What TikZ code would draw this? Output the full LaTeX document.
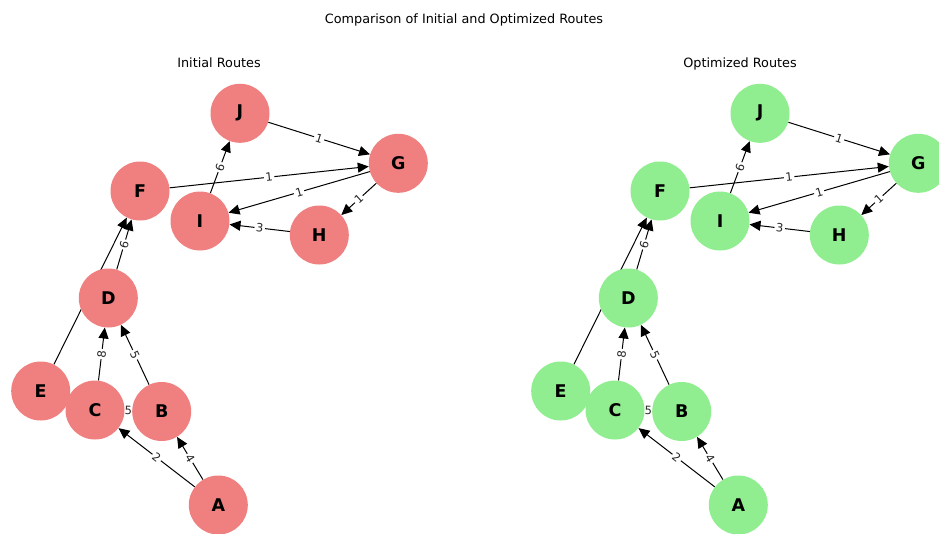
\documentclass[tikz,border=0pt]{standalone}
\usepackage{fontspec}
\setmainfont{DejaVu Sans}
\usetikzlibrary{arrows.meta}
\pgfdeclarelayer{bottom}
\pgfdeclarelayer{background}
\pgfsetlayers{bottom,background,main}
\definecolor{lcoral}{RGB}{240,128,128}
\definecolor{lgreen}{RGB}{144,238,144}
\tikzset{
  vtx/.style={circle, minimum size=59pt, inner sep=0pt, draw=none, font=\fontsize{17.5}{17.5}\selectfont\bfseries},
  edge/.style={draw=black, line width=1pt, -{Triangle[length=11pt,width=10pt]}},
  plainedge/.style={draw=black, line width=1pt},
  elab/.style={fill=white, inner sep=1.5pt, rounded corners=2pt, sloped, midway, font=\fontsize{11.5}{11.5}\selectfont, text=black!85},
  ttl/.style={anchor=base, font=\fontsize{12.8}{13}\selectfont, text=black}
}
\newcommand\routegraph[3]{%
  \begin{scope}[xshift=#3]
    \node[vtx,fill=#2] (#1J) at (240,113.3) {J};
    \node[vtx,fill=#2] (#1G) at (398.3,163.3) {G};
    \node[vtx,fill=#2] (#1F) at (140,191) {F};
    \node[vtx,fill=#2] (#1I) at (200,221) {I};
    \node[vtx,fill=#2] (#1H) at (319.3,235) {H};
    \node[vtx,fill=#2] (#1D) at (108.3,298) {D};
    \node[vtx,fill=#2] (#1E) at (40.7,391) {E};
    \node[vtx,fill=#2] (#1C) at (95,410) {C};
    \node[vtx,fill=#2] (#1B) at (161.7,411.5) {B};
    \node[vtx,fill=#2] (#1A) at (218.3,505) {A};
    \begin{pgfonlayer}{background}
      \draw[edge] (#1E) -- (#1F);
      \draw[edge] (#1D) -- node[elab]{6} (#1F);
      \draw[edge] (#1C) -- node[elab]{8} (#1D);
      \draw[edge] (#1B) -- node[elab]{5} (#1D);
      \draw[edge] (#1A) -- node[elab]{2} (#1C);
      \draw[edge] (#1A) -- node[elab]{4} (#1B);
      \draw[plainedge] (#1C) -- node[elab]{5} (#1B);
      \draw[edge] (#1I) -- node[elab]{6} (#1J);
      \draw[edge] (#1J) -- node[elab]{1} (#1G);
      \draw[edge] (#1F) -- node[elab]{1} (#1G);
      \draw[edge] (#1G) -- node[elab]{1} (#1I);
      \draw[edge] (#1G) -- node[elab]{1} (#1H);
      \draw[edge] (#1H) -- node[elab]{3} (#1I);
    \end{pgfonlayer}
  \end{scope}}
\begin{document}
\begin{tikzpicture}[x=1pt,y=-1pt]
  \useasboundingbox (0,0) rectangle (939,533);
  \clip (0,0) rectangle (939,533);
  \begin{pgfonlayer}{bottom}
    \fill[white] (0,0) rectangle (939,533);
  \end{pgfonlayer}
  \node[ttl] (title) at (464,23) {Comparison of Initial and Optimized Routes};
  \node[ttl] (lt) at (219,67) {Initial Routes};
  \node[ttl] (rt) at (740,67) {Optimized Routes};
  \routegraph{l}{lcoral}{0pt}
  \routegraph{r}{lgreen}{520pt}
\end{tikzpicture}
\end{document}
